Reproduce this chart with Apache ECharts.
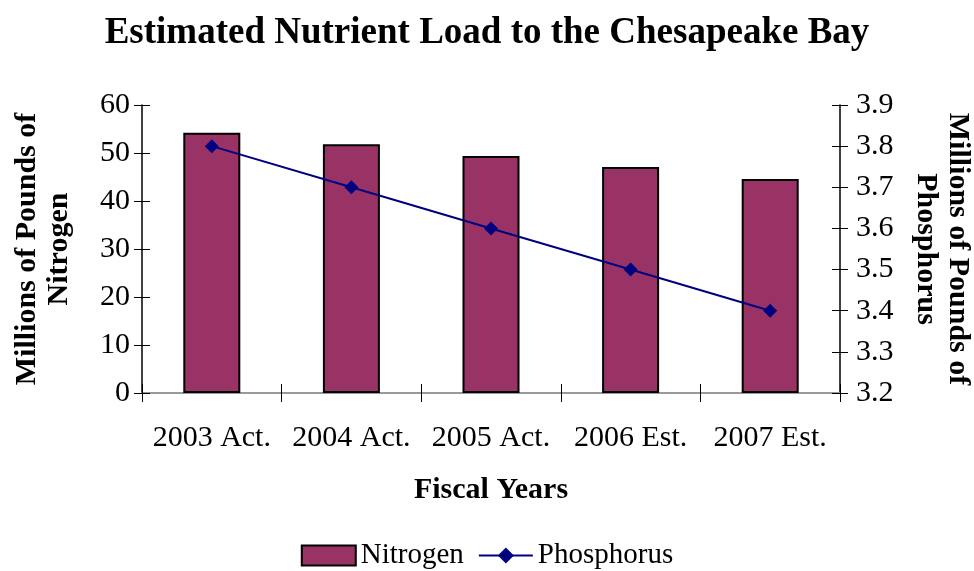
<!DOCTYPE html>
<html>
<head>
<meta charset="utf-8">
<script src="https://cdn.jsdelivr.net/npm/echarts@6/dist/echarts.min.js"></script>
<style>
  html, body { margin: 0; padding: 0; background: #fff; }
  #chart { width: 974px; height: 571px; }
</style>
</head>
<body>
<div id="chart"></div>
<script>
var years = ['2003 Act.', '2004 Act.', '2005 Act.', '2006 Est.', '2007 Est.'];
var nitrogen = [54.2, 51.8, 49.4, 47.1, 44.6];
var phosphorus = [3.8, 3.7, 3.6, 3.5, 3.4];

var chart = echarts.init(document.getElementById('chart'));
var serif = '"Liberation Serif", "Times New Roman", serif';

// extra axes only to draw the tick marks on the inner side (cross ticks)
var option = {
    textStyle: { fontFamily: serif },
    title: {
        text: 'Estimated Nutrient Load to the Chesapeake Bay',
        left: 'center',
        top: 10,
        textStyle: { fontFamily: serif, fontSize: 37, fontWeight: 'bold', color: '#000' }
    },
    legend: {
        bottom: -4,
        left: 'center',
        itemGap: 14,
        textStyle: { fontFamily: serif, fontSize: 29, color: '#000' },
        data: [
            { name: 'Nitrogen', icon: 'rect', itemStyle: { borderColor: '#000', borderWidth: 2 } },
            { name: 'Phosphorus' }
        ],
        itemWidth: 54,
        itemHeight: 20
    },
    grid: { left: 142, right: 134, top: 105, bottom: 178, outerBoundsMode: 'none', containLabel: false },
    xAxis: [{
        type: 'category',
        data: years,
        boundaryGap: true,
        name: 'Fiscal Years',
        nameLocation: 'middle',
        nameGap: 82,
        nameTextStyle: { fontFamily: serif, fontSize: 30, fontWeight: 'bold', color: '#000' },
        axisLine: { lineStyle: { color: '#000', width: 1.5 } },
        axisTick: { show: true, interval: 0, length: 9, lineStyle: { color: '#000' } },
        axisLabel: { fontFamily: serif, fontSize: 30, color: '#000', margin: 30, interval: 0, hideOverlap: false }
    }, {
        type: 'category',
        position: 'top',
        data: years,
        axisLine: { lineStyle: { color: '#999', width: 2 } },
        axisTick: { show: false },
        axisLabel: { show: false }
    }, {
        type: 'category',
        position: 'bottom',
        data: years,
        axisLine: { show: false },
        axisTick: { show: true, interval: 0, inside: true, length: 9, lineStyle: { color: '#000' } },
        axisLabel: { show: false }
    }],
    yAxis: [{
        type: 'value',
        min: 0, max: 60, interval: 10,
        name: 'Millions of Pounds of\nNitrogen',
        nameLocation: 'middle',
        nameRotate: 90,
        nameGap: 67,
        nameTextStyle: { fontFamily: serif, fontSize: 30, fontWeight: 'bold', color: '#000', lineHeight: 32 },
        axisLine: { show: true, lineStyle: { color: '#000', width: 1.5 } },
        axisTick: { show: true, length: 8, lineStyle: { color: '#000' } },
        splitLine: { show: false },
        axisLabel: { fontFamily: serif, fontSize: 30, color: '#000', margin: 12 }
    }, {
        type: 'value',
        min: 3.2, max: 3.9, interval: 0.1,
        position: 'right',
        name: 'Millions of Pounds of\nPhosphorus',
        nameLocation: 'middle',
        nameRotate: -90,
        nameGap: 70,
        nameTextStyle: { fontFamily: serif, fontSize: 30, fontWeight: 'bold', color: '#000', lineHeight: 32 },
        axisLine: { show: true, lineStyle: { color: '#000', width: 1.5 } },
        axisTick: { show: true, length: 8, lineStyle: { color: '#000' } },
        splitLine: { show: false },
        axisLabel: {
            fontFamily: serif, fontSize: 30, color: '#000', margin: 16,
            formatter: function (v) { return v.toFixed(1); }
        }
    }, {
        type: 'value',
        min: 0, max: 60, interval: 10,
        position: 'left',
        axisLine: { show: false },
        axisTick: { show: true, inside: true, length: 8, lineStyle: { color: '#000' } },
        splitLine: { show: false },
        axisLabel: { show: false }
    }, {
        type: 'value',
        min: 3.2, max: 3.9, interval: 0.1,
        position: 'right',
        axisLine: { show: false },
        axisTick: { show: true, inside: true, length: 8, lineStyle: { color: '#000' } },
        splitLine: { show: false },
        axisLabel: { show: false }
    }],
    series: [{
        name: 'Nitrogen',
        type: 'bar',
        yAxisIndex: 0,
        data: nitrogen,
        barWidth: 57,
        itemStyle: { color: '#993366', borderColor: '#000', borderWidth: 2 }
    }, {
        name: 'Phosphorus',
        type: 'line',
        yAxisIndex: 1,
        data: phosphorus,
        symbol: 'diamond',
        symbolSize: 14,
        lineStyle: { color: '#000080', width: 2 },
        itemStyle: { color: '#000080' }
    }]
};

chart.setOption(option);
</script>
</body>
</html>
